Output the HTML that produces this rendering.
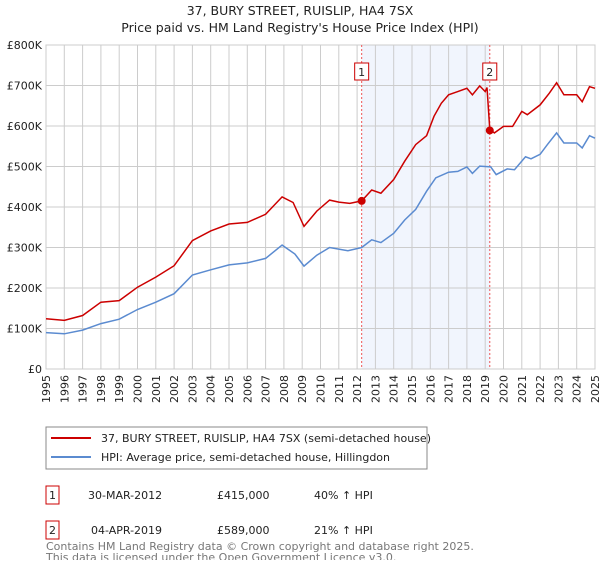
<!DOCTYPE html>
<html><head><meta charset="utf-8">
<style>
body{margin:0;background:#fff;font-family:"Liberation Sans","DejaVu Sans",sans-serif;}
svg text{font-family:"DejaVu Sans","Liberation Sans",sans-serif;}
</style></head>
<body>
<svg id="chart" width="600" height="560" xmlns="http://www.w3.org/2000/svg">
<text x="300" y="15" text-anchor="middle" font-size="12.5" fill="#222">37, BURY STREET, RUISLIP, HA4 7SX</text>
<text x="300" y="32" text-anchor="middle" font-size="12.5" fill="#222">Price paid vs. HM Land Registry's House Price Index (HPI)</text>
<g id="grid"></g>
<g id="marks"></g>
<g id="axes"></g>
<g>
<rect x="46" y="427" width="381" height="42" fill="#fff" stroke="#888"/>
<line x1="51" y1="438" x2="91" y2="438" stroke="#cc0000" stroke-width="2"/>
<text x="101" y="442" font-size="11" fill="#222">37, BURY STREET, RUISLIP, HA4 7SX (semi-detached house)</text>
<line x1="51" y1="457" x2="91" y2="457" stroke="#5b8bd0" stroke-width="2"/>
<text x="101" y="461" font-size="11" fill="#222">HPI: Average price, semi-detached house, Hillingdon</text>
</g>
<g font-size="11" fill="#222">
<rect x="46" y="486" width="13" height="18" fill="#fff" stroke="#cc0000"/>
<text x="52.5" y="499" text-anchor="middle">1</text>
<text x="88" y="499">30-MAR-2012</text><text x="217" y="499">£415,000</text><text x="314" y="499">40% ↑ HPI</text>
<rect x="46" y="521" width="13" height="18" fill="#fff" stroke="#cc0000"/>
<text x="52.5" y="534" text-anchor="middle">2</text>
<text x="91" y="534">04-APR-2019</text><text x="217" y="534">£589,000</text><text x="314" y="534">21% ↑ HPI</text>
</g>
<text x="46" y="550" font-size="11" fill="#777">Contains HM Land Registry data © Crown copyright and database right 2025.</text>
<text x="46" y="561" font-size="11" fill="#777">This data is licensed under the Open Government Licence v3.0.</text>
</svg>
<script>
const yTicks=[0,100000,200000,300000,400000,500000,600000,700000,800000];
const yTickLabels=["£0","£100K","£200K","£300K","£400K","£500K","£600K","£700K","£800K"];
const xYears=[1995,1996,1997,1998,1999,2000,2001,2002,2003,2004,2005,2006,2007,2008,2009,2010,2011,2012,2013,2014,2015,2016,2017,2018,2019,2020,2021,2022,2023,2024,2025];
const priceT=[1995,1996,1997,1998,1999,2000,2001,2002,2003,2004,2005,2006,2007,2007.9,2008.5,2009.1,2009.8,2010.5,2011,2011.6,2012.25,2012.8,2013.3,2014,2014.6,2015.2,2015.8,2016.2,2016.6,2017,2017.5,2018,2018.3,2018.7,2019,2019.1,2019.25,2019.5,2020,2020.5,2021,2021.3,2022,2022.5,2022.9,2023.3,2024,2024.3,2024.7,2025];
const priceV=[124,120,132,165,169,202,227,255,317,341,358,362,382,425,411,352,390,417,412,409,415,442,434,468,513,554,576,624,656,677,685,693,677,699,685,695,591,583,599,599,636,628,652,681,707,677,677,660,697,693];
const hpiT=[1995,1996,1997,1998,1999,2000,2001,2002,2003,2004,2005,2006,2007,2007.9,2008.6,2009.1,2009.8,2010.5,2011.5,2012.25,2012.8,2013.3,2014,2014.6,2015.2,2015.8,2016.3,2017,2017.5,2018,2018.3,2018.7,2019.3,2019.6,2020.2,2020.6,2021.2,2021.5,2022,2022.4,2022.9,2023.3,2024,2024.3,2024.7,2025];
const hpiV=[90,87,96,112,123,147,165,186,232,245,257,262,273,306,284,254,281,300,292,300,319,312,335,368,394,439,472,486,488,499,483,501,499,480,494,492,524,519,530,554,583,558,558,546,576,570];
const saleT=[2012.25,2019.25];
const saleV=[415,589];
const saleLabels=["1","2"];

const NS="http://www.w3.org/2000/svg";
const L=46,R=595,T=45,B=369;
const xs=t=>L+(t-1995)*(R-L)/30;
const ys=v=>B-v*(B-T)/800000;
function mk(tag,attrs,parent){const e=document.createElementNS(NS,tag);for(const k in attrs)e.setAttribute(k,attrs[k]);parent.appendChild(e);return e;}
const grid=document.getElementById('grid'),marks=document.getElementById('marks'),axes=document.getElementById('axes');
// shaded region
const sh=mk('rect',{x:xs(saleT[0]),y:T,width:xs(saleT[1])-xs(saleT[0]),height:B-T,fill:'#eef3fc',opacity:0.8},grid);


mk('rect',{x:L,y:T,width:R-L,height:B-T,fill:'none',stroke:'#ccc'},grid);
yTicks.forEach((v,i)=>{
 const g=mk('line',{x1:L,x2:R,y1:ys(v),y2:ys(v),stroke:'#ccc'},grid);
 
 
 const t=mk('text',{x:L-4,y:ys(v)+4,'text-anchor':'end','font-size':11,fill:'#222'},axes);
 t.textContent=yTickLabels[i];
 
 
});
xYears.forEach(yr=>{
 const g=mk('line',{x1:xs(yr),x2:xs(yr),y1:T,y2:B,stroke:'#ccc'},grid);
 
 
 const t=mk('text',{x:0,y:0,'text-anchor':'end','font-size':11,fill:'#222',transform:`translate(${xs(yr)+4},${B+6}) rotate(-90)`},axes);
 t.textContent=String(yr);
 
 
});
function path(ts,vs){return ts.map((t,i)=>(i?'L':'M')+xs(t).toFixed(1)+','+ys(vs[i]*1000).toFixed(1)).join('');}
saleT.forEach((t,i)=>{
 const l=mk('line',{x1:xs(t),x2:xs(t),y1:T,y2:B,stroke:'#ee5555','stroke-dasharray':'2,2'},marks);
 
 
});
const hp=mk('path',{d:path(hpiT,hpiV),fill:'none',stroke:'#5b8bd0','stroke-width':1.5},marks);


const pp=mk('path',{d:path(priceT,priceV),fill:'none',stroke:'#cc0000','stroke-width':1.5},marks);


saleT.forEach((t,i)=>{
 const c=mk('circle',{cx:xs(t),cy:ys(saleV[i]*1000),r:4,fill:'#cc0000'},marks);
 
 
 const b=mk('rect',{x:xs(t)-7,y:63,width:14,height:17,fill:'#fff',stroke:'#cc0000'},marks);
 
 
 const tx=mk('text',{x:xs(t),y:76,'text-anchor':'middle','font-size':11,fill:'#222'},marks);
 tx.textContent=saleLabels[i];
 
 
});
</script>
</body></html>
